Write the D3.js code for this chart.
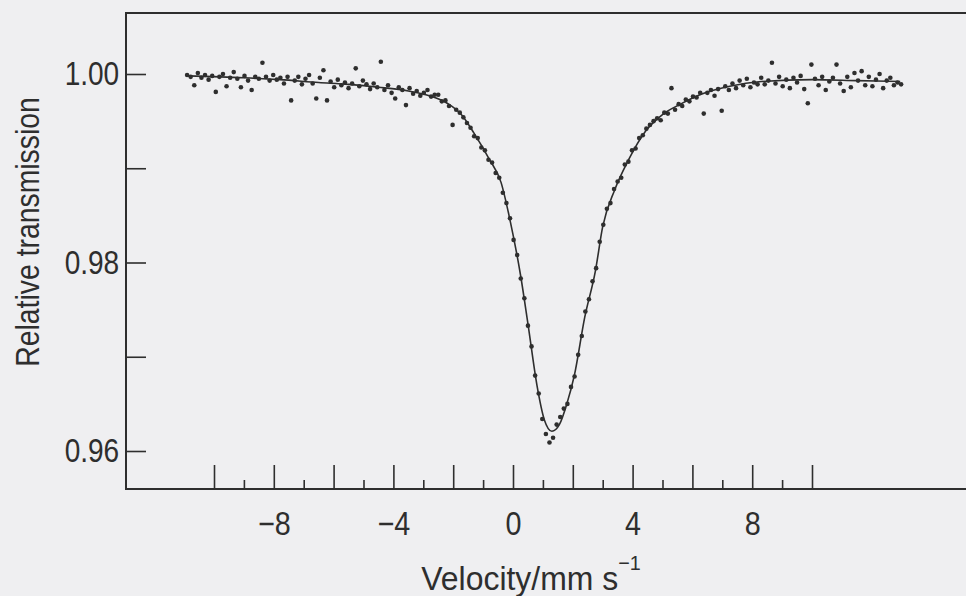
<!DOCTYPE html>
<html>
<head>
<meta charset="utf-8">
<script src="https://cdn.jsdelivr.net/npm/d3@7"></script>
<style>
  html, body { margin: 0; padding: 0; background: #efeff1; }
  svg { display: block; }
  text { font-family: "Liberation Sans", Arial, Helvetica, sans-serif; fill: #2e2e2e; }
</style>
</head>
<body>
<svg id="chart" width="966" height="596"></svg>
<script>
// measured points (mm/s, relative transmission)
const velocity = [
  -10.90, -10.78, -10.66, -10.54, -10.42, -10.30, -10.18, -10.06, -9.94, -9.82,
  -9.70, -9.58, -9.46, -9.34, -9.22, -9.10, -8.98, -8.86, -8.74, -8.62,
  -8.50, -8.38, -8.26, -8.14, -8.02, -7.90, -7.78, -7.66, -7.54, -7.42,
  -7.30, -7.18, -7.06, -6.94, -6.82, -6.70, -6.58, -6.46, -6.34, -6.22,
  -6.10, -5.98, -5.86, -5.74, -5.62, -5.50, -5.38, -5.26, -5.14, -5.02,
  -4.90, -4.78, -4.66, -4.54, -4.42, -4.30, -4.18, -4.06, -3.94, -3.82,
  -3.70, -3.58, -3.46, -3.34, -3.22, -3.10, -2.98, -2.86, -2.74, -2.62,
  -2.50, -2.38, -2.26, -2.14, -2.02, -1.90, -1.78, -1.66, -1.54, -1.42,
  -1.30, -1.18, -1.06, -0.94, -0.82, -0.70, -0.58, -0.46, -0.34, -0.22,
  -0.10, 0.02, 0.14, 0.26, 0.38, 0.50, 0.62, 0.74, 0.86, 0.98,
  1.10, 1.22, 1.34, 1.46, 1.58, 1.70, 1.82, 1.94, 2.06, 2.18,
  2.30, 2.42, 2.54, 2.66, 2.78, 2.90, 3.02, 3.14, 3.26, 3.38,
  3.50, 3.62, 3.74, 3.86, 3.98, 4.10, 4.22, 4.34, 4.46, 4.58,
  4.70, 4.82, 4.94, 5.06, 5.18, 5.30, 5.42, 5.54, 5.66, 5.78,
  5.90, 6.02, 6.14, 6.26, 6.38, 6.50, 6.62, 6.74, 6.86, 6.98,
  7.10, 7.22, 7.34, 7.46, 7.58, 7.70, 7.82, 7.94, 8.06, 8.18,
  8.30, 8.42, 8.54, 8.66, 8.78, 8.90, 9.02, 9.14, 9.26, 9.38,
  9.50, 9.62, 9.74, 9.86, 9.98, 10.10, 10.22, 10.34, 10.46, 10.58,
  10.70, 10.82, 10.94, 11.06, 11.18, 11.30, 11.42, 11.54, 11.66, 11.78,
  11.90, 12.02, 12.14, 12.26, 12.38, 12.50, 12.62, 12.74, 12.86, 12.98
];
const transmission = [
  0.9999, 0.9997, 0.9988, 1.0001, 0.9996, 0.9999, 0.9994, 0.9998, 0.9981, 0.9997,
  1.0000, 0.9987, 0.9996, 1.0002, 0.9995, 0.9986, 0.9998, 0.9993, 0.9983, 0.9997,
  0.9995, 1.0012, 0.9997, 0.9993, 0.9999, 0.9994, 0.9996, 0.9990, 0.9997, 0.9972,
  0.9993, 0.9997, 0.9989, 0.9995, 0.9999, 0.9990, 0.9974, 0.9996, 1.0004, 0.9972,
  0.9992, 0.9986, 0.9994, 0.9988, 0.9991, 0.9985, 0.9990, 1.0006, 0.9987, 0.9993,
  0.9989, 0.9984, 0.9990, 0.9986, 1.0013, 0.9983, 0.9988, 0.9980, 0.9974, 0.9986,
  0.9983, 0.9967, 0.9985, 0.9979, 0.9982, 0.9977, 0.9980, 0.9983, 0.9976, 0.9978,
  0.9978, 0.9971, 0.9972, 0.9966, 0.9946, 0.9962, 0.9959, 0.9954, 0.9948, 0.9943,
  0.9934, 0.9932, 0.9922, 0.9919, 0.9909, 0.9906, 0.9895, 0.9890, 0.9874, 0.9863,
  0.9847, 0.9824, 0.9808, 0.9783, 0.9762, 0.9733, 0.9711, 0.9680, 0.9661, 0.9634,
  0.9618, 0.9609, 0.9614, 0.9628, 0.9636, 0.9645, 0.9650, 0.9668, 0.9679, 0.9702,
  0.9722, 0.9748, 0.9761, 0.9780, 0.9794, 0.9822, 0.9840, 0.9857, 0.9863, 0.9878,
  0.9886, 0.9890, 0.9904, 0.9907, 0.9919, 0.9921, 0.9932, 0.9935, 0.9942, 0.9946,
  0.9950, 0.9953, 0.9951, 0.9959, 0.9958, 0.9985, 0.9962, 0.9968, 0.9966, 0.9973,
  0.9971, 0.9976, 0.9975, 0.9980, 0.9958, 0.9980, 0.9983, 0.9977, 0.9984, 0.9961,
  0.9987, 0.9983, 0.9990, 0.9985, 0.9993, 0.9988, 0.9995, 0.9986, 0.9991, 0.9989,
  0.9996, 0.9989, 0.9993, 1.0012, 0.9990, 0.9997, 0.9987, 0.9994, 0.9985, 0.9996,
  0.9991, 0.9998, 0.9984, 0.9969, 1.0010, 0.9995, 0.9988, 0.9997, 0.9983, 0.9992,
  0.9996, 1.0010, 0.9990, 0.9982, 0.9997, 0.9986, 1.0001, 0.9993, 1.0003, 0.9988,
  0.9997, 0.9987, 0.9994, 1.0000, 0.9985, 0.9993, 0.9996, 0.9988, 0.9991, 0.9989
];

// fitted curve
const fitVelocity = [-10.9, -9, -7.8, -6.5, -5.5, -4.5, -3.5, -2.8, -2.2, -1.7, -1.3, -0.8, -0.4, -0.1,
  0.25, 0.5, 0.8, 1.05, 1.3, 1.55, 1.8, 2.05, 2.4, 2.75, 3.0, 3.4, 3.85, 4.45, 5.0, 5.6, 6.25, 7.25, 8.3, 10, 11.5, 12.95];
const fitTransmission = [0.9998, 0.9996, 0.9994, 0.9991, 0.9989, 0.9986, 0.9982, 0.9977, 0.9969, 0.9956, 0.9937, 0.9910, 0.9885, 0.9845,
  0.9787, 0.9735, 0.9670, 0.9633, 0.9621, 0.9628, 0.9650, 0.9680, 0.9742, 0.9790, 0.9838, 0.9877, 0.9908, 0.9940, 0.9957, 0.9968, 0.9978, 0.9987, 0.9992, 0.9994, 0.9993, 0.9992];

const yTicks = [0.96, 0.97, 0.98, 0.99, 1.00];
const yLabels = [0.96, 0.98, 1.00];
const xMajor = [-10, -8, -6, -4, -2, 0, 2, 4, 6, 8, 10];
const xMinor = [-9, -7, -5, -3, -1, 1, 3, 5, 7, 9];
const xLabels = [-8, -4, 0, 4, 8];

const ink = "#2e2e2e";
const frame = { left: 126, top: 13, bottom: 489, right: 966 };

const svg = d3.select("#chart");
svg.append("rect").attr("width", 966).attr("height", 596).attr("fill", "#efeff1");

const x = d3.scaleLinear().domain([-10, 10]).range([214, 812]);
const y = d3.scaleLinear().domain([0.96, 1.00]).range([451, 74]);

// frame: left, top and bottom lines only
svg.append("path")
  .attr("d", `M${frame.right},${frame.top}H${frame.left}V${frame.bottom}H${frame.right}`)
  .attr("fill", "none")
  .attr("stroke", ink)
  .attr("stroke-width", 2);

// y axis, ticks pointing inward
const yAxis = svg.append("g")
  .attr("transform", `translate(${frame.left},0)`)
  .call(d3.axisLeft(y)
    .tickValues(yTicks)
    .tickSizeInner(-20)
    .tickSizeOuter(0)
    .tickPadding(8)
    .tickFormat(d => yLabels.some(v => Math.abs(v - d) < 1e-9) ? d3.format(".2f")(d) : ""));
yAxis.select(".domain").remove();
yAxis.selectAll("line").attr("stroke", ink).attr("stroke-width", 1.6);
yAxis.selectAll("text")
  .attr("font-size", 33)
  .attr("transform", "scale(0.85,1)")
  .style("fill", ink);

// x axis: long ticks at even values, short at odd
const xAxis = svg.append("g")
  .attr("transform", `translate(0,${frame.bottom})`)
  .call(d3.axisBottom(x)
    .tickValues(xMajor)
    .tickSizeInner(-24)
    .tickSizeOuter(0)
    .tickPadding(23)
    .tickFormat(d => xLabels.includes(d) ? d3.format("d")(d) : ""));
xAxis.select(".domain").remove();
xAxis.selectAll("line").attr("stroke", ink).attr("stroke-width", 1.6);
xAxis.selectAll("text")
  .attr("font-size", 33)
  .attr("transform", "scale(0.87,1)")
  .style("fill", ink);

const xMinorAxis = svg.append("g")
  .attr("transform", `translate(0,${frame.bottom})`)
  .call(d3.axisBottom(x)
    .tickValues(xMinor)
    .tickSizeInner(-9)
    .tickSizeOuter(0)
    .tickFormat(""));
xMinorAxis.select(".domain").remove();
xMinorAxis.selectAll("line").attr("stroke", ink).attr("stroke-width", 1.6);

// fitted line
const fit = fitVelocity.map((v, i) => [v, fitTransmission[i]]);
svg.append("path")
  .datum(fit)
  .attr("fill", "none")
  .attr("stroke", ink)
  .attr("stroke-width", 1.6)
  .attr("d", d3.line()
    .x(d => x(d[0]))
    .y(d => y(d[1]))
    .curve(d3.curveMonotoneX));

// data points
svg.append("g")
  .selectAll("circle")
  .data(velocity.map((v, i) => [v, transmission[i]]))
  .join("circle")
  .attr("cx", d => x(d[0]))
  .attr("cy", d => y(d[1]))
  .attr("r", 2.3)
  .attr("fill", ink);

// axis titles
const xTitle = svg.append("text")
  .attr("transform", "translate(531,590) scale(0.94,1)")
  .attr("text-anchor", "middle")
  .attr("font-size", 34);
xTitle.append("tspan").text("Velocity/mm s");
xTitle.append("tspan").attr("font-size", 21).attr("dy", -20).text("\u22121");

svg.append("text")
  .attr("transform", "translate(39,232) rotate(-90) scale(0.86,1)")
  .attr("text-anchor", "middle")
  .attr("font-size", 33)
  .text("Relative transmission");
</script>
</body>
</html>
